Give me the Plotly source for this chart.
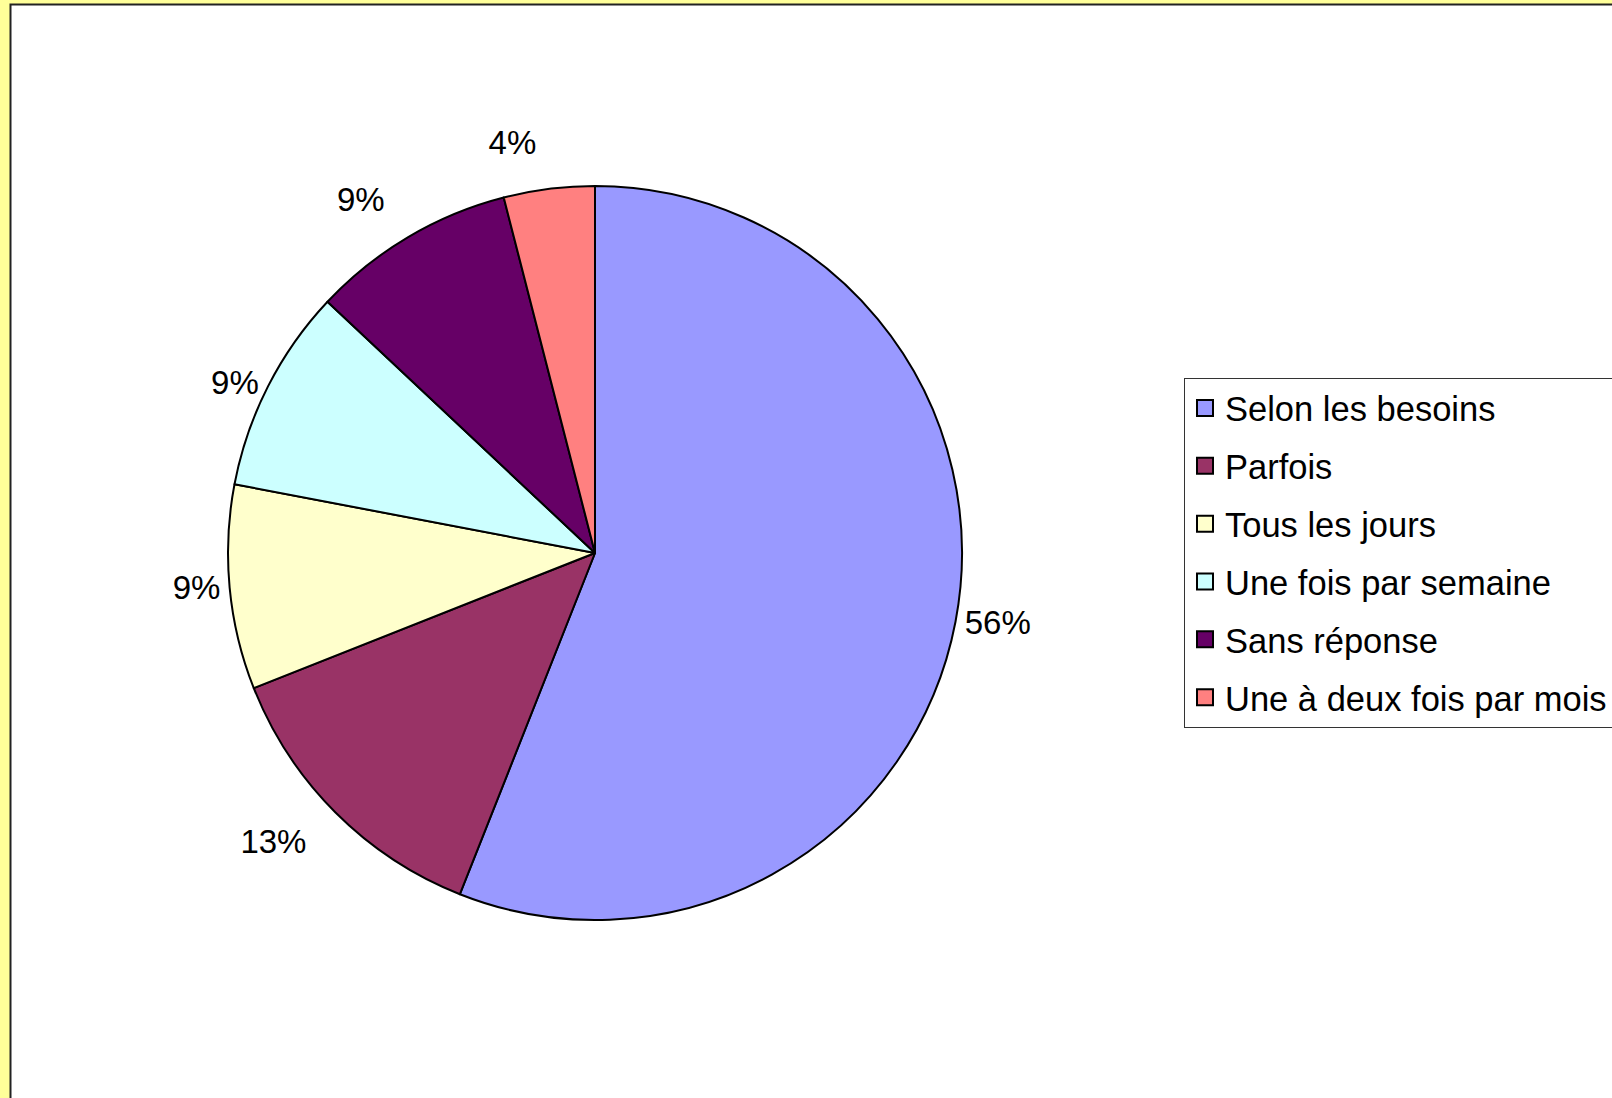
import plotly.graph_objects as go

# Répartition des réponses (en %)
categories = [
    "Selon les besoins",
    "Parfois",
    "Tous les jours",
    "Une fois par semaine",
    "Sans réponse",
    "Une à deux fois par mois",
]
percentages = [56, 13, 9, 9, 9, 4]
slice_colors = ["#9999FF", "#993366", "#FFFFCC", "#CCFFFF", "#660066", "#FF8080"]

W, H = 1612, 1098
FONT = "Liberation Sans, Arial, sans-serif"

# pie geometry in pixels
CX, CY, R = 595, 553, 367
R_LABELS = R + 28  # ring on which the upper labels sit


def domain(radius):
    return dict(
        x=[(CX - radius) / W, (CX + radius) / W],
        y=[(H - CY - radius) / H, (H - CY + radius) / H],
    )


# labels placed right at the pie edge vs. on the wider ring
near = [True, False, True, True, False, False]

fig = go.Figure()

fig.add_trace(
    go.Pie(
        labels=categories,
        values=percentages,
        sort=False,
        direction="clockwise",
        rotation=0,
        marker=dict(colors=slice_colors, line=dict(color="black", width=2)),
        texttemplate="%{value}%",
        textposition=["outside" if n else "none" for n in near],
        textfont=dict(family=FONT, size=33, color="black"),
        hoverinfo="skip",
        showlegend=False,
        domain=domain(R),
    )
)

# transparent ring carrying the remaining percentage labels
fig.add_trace(
    go.Pie(
        labels=categories,
        values=percentages,
        sort=False,
        direction="clockwise",
        rotation=0,
        marker=dict(colors=["rgba(0,0,0,0)"] * len(categories), line=dict(width=0)),
        texttemplate="%{value}%",
        textposition=["none" if n else "outside" for n in near],
        textfont=dict(family=FONT, size=33, color="black"),
        hoverinfo="skip",
        showlegend=False,
        domain=domain(R_LABELS),
    )
)

# legend entries, one per category
for name, color in zip(categories, slice_colors):
    fig.add_trace(
        go.Scatter(
            x=[None],
            y=[None],
            mode="markers",
            name=name,
            legendgroup=name,
            marker=dict(symbol="square", size=18, color=color,
                        line=dict(color="black", width=2)),
            hoverinfo="skip",
        )
    )

fig.update_layout(
    width=W,
    height=H,
    margin=dict(l=0, r=0, t=0, b=0, autoexpand=False),
    paper_bgcolor="#FFFF99",
    plot_bgcolor="rgba(0,0,0,0)",
    font=dict(family=FONT, color="black"),
    xaxis=dict(visible=False),
    yaxis=dict(visible=False),
    showlegend=True,
    legend=dict(
        x=1184 / W,
        y=1 - 378 / H,
        xanchor="left",
        yanchor="top",
        bgcolor="white",
        bordercolor="#333333",
        borderwidth=1,
        font=dict(family=FONT, size=34.5, color="black"),
        traceorder="grouped",
        tracegroupgap=10,
        itemsizing="trace",
    ),
    shapes=[
        dict(
            type="rect",
            xref="paper",
            yref="paper",
            x0=10.5 / W,
            x1=1.02,
            y0=-0.02,
            y1=1 - 4.5 / H,
            fillcolor="white",
            line=dict(color="#222222", width=2),
            layer="below",
        )
    ],
)

fig.write_html("out.html")
